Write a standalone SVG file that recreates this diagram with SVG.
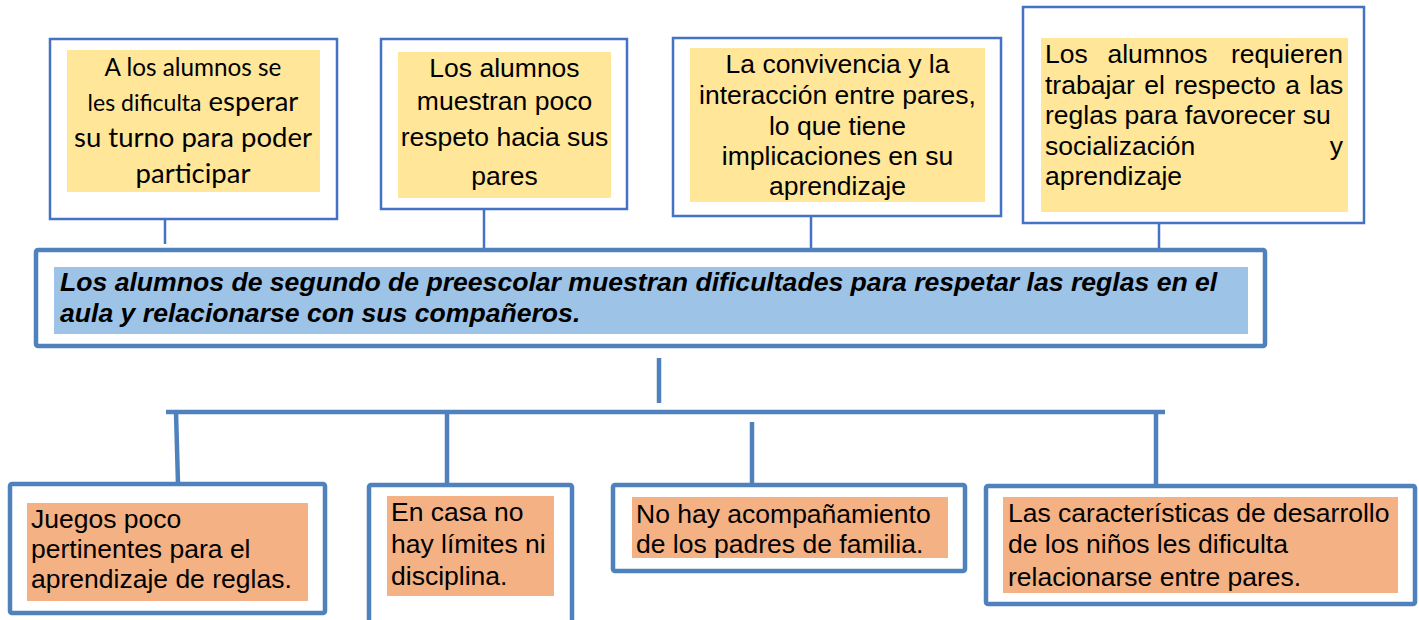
<svg xmlns="http://www.w3.org/2000/svg" width="1419" height="620" viewBox="0 0 1419 620">
<style>
.tbox{fill:#fff;stroke:#4472C4;stroke-width:2.5}
.bbox{fill:#fff;stroke:#4F81BD;stroke-width:4.5}
.yel{fill:#FFE699}
.org{fill:#F4B183}
.blu{fill:#9DC3E6}
.t{font-family:"Liberation Sans",Arial,sans-serif;font-size:26.5px;fill:#000}
.c{font-family:Lato,"Liberation Sans",sans-serif;fill:#000}
.m{font-family:"Liberation Sans",Arial,sans-serif;font-size:26.6px;font-weight:bold;font-style:italic;fill:#000}
.thin{stroke:#4472C4;stroke-width:2.5;fill:none}
.thick{stroke:#4F81BD;stroke-width:4.5;fill:none}
</style>
<rect width="1419" height="620" fill="#fff"/>
<g id="connectors">
<line class="thin" x1="165" y1="219" x2="165" y2="244"/>
<line class="thin" x1="484" y1="209" x2="484" y2="249"/>
<line class="thin" x1="811" y1="216" x2="811" y2="249"/>
<line class="thin" x1="1159" y1="223" x2="1159" y2="249"/>
<line class="thick" x1="659" y1="358" x2="659" y2="403"/>
<line class="thick" x1="166" y1="412" x2="1165" y2="412"/>
<line class="thick" x1="176" y1="412" x2="178" y2="484"/>
<line class="thick" x1="447" y1="412" x2="447" y2="488"/>
<line class="thick" x1="752" y1="422" x2="752" y2="488"/>
<line class="thick" x1="1156" y1="412" x2="1156" y2="487"/>
</g>
<g id="top1">
<rect class="tbox" x="50" y="39" width="287" height="180"/>
<rect class="yel" x="67" y="50" width="253" height="142"/>
<text class="c" text-anchor="middle" x="193" y="76" font-size="24.3">A los alumnos se</text>
<text class="c" text-anchor="middle" x="193" y="111"><tspan font-size="23">les dificulta</tspan><tspan font-size="27.5"> esperar</tspan></text>
<text class="c" text-anchor="middle" x="193" y="147" font-size="27.5">su turno para poder</text>
<text class="c" text-anchor="middle" x="193" y="183" font-size="27.5">participar</text>
</g>
<g id="top2">
<rect class="tbox" x="381" y="39" width="246" height="170"/>
<rect class="yel" x="398" y="52" width="213" height="146"/>
<text class="t" text-anchor="middle" x="504.5" y="77">Los alumnos</text>
<text class="t" text-anchor="middle" x="504.5" y="110">muestran poco</text>
<text class="t" text-anchor="middle" x="504.5" y="146">respeto hacia sus</text>
<text class="t" text-anchor="middle" x="504.5" y="185">pares</text>
</g>
<g id="top3">
<rect class="tbox" x="673" y="38" width="328" height="178"/>
<rect class="yel" x="690" y="48" width="295" height="154"/>
<text class="t" text-anchor="middle" x="837.5" y="73">La convivencia y la</text>
<text class="t" text-anchor="middle" x="837.5" y="104">interacción entre pares,</text>
<text class="t" text-anchor="middle" x="837.5" y="135">lo que tiene</text>
<text class="t" text-anchor="middle" x="837.5" y="165">implicaciones en su</text>
<text class="t" text-anchor="middle" x="837.5" y="195">aprendizaje</text>
</g>
<g id="top4">
<rect class="tbox" x="1023" y="7" width="341" height="216"/>
<rect class="yel" x="1041" y="38" width="307" height="174"/>
<text class="t" x="1045" y="63">Los</text>
<text class="t" text-anchor="middle" x="1157.5" y="63">alumnos</text>
<text class="t" text-anchor="end" x="1343" y="63">requieren</text>
<text class="t" x="1045" y="94" word-spacing="2">trabajar el respecto a las</text>
<text class="t" x="1045" y="124">reglas para favorecer su</text>
<text class="t" x="1045" y="155">socialización</text>
<text class="t" text-anchor="end" x="1343" y="155">y</text>
<text class="t" x="1045" y="185">aprendizaje</text>
</g>
<g id="main">
<rect class="bbox" x="36" y="250" width="1229" height="96" rx="2"/>
<rect class="blu" x="54" y="267" width="1194" height="67"/>
<text class="m" x="60" y="291">Los alumnos de segundo de preescolar muestran dificultades para respetar las reglas en el</text>
<text class="m" x="60" y="322">aula y relacionarse con sus compañeros.</text>
</g>
<g id="bottom1">
<rect class="bbox" x="10" y="484" width="315" height="129" rx="2"/>
<rect class="org" x="27" y="503" width="281" height="98"/>
<text class="t" x="31" y="528">Juegos poco</text>
<text class="t" x="31" y="558">pertinentes para el</text>
<text class="t" x="31" y="588">aprendizaje de reglas.</text>
</g>
<g id="bottom2">
<rect class="bbox" x="369" y="485" width="203" height="150" rx="2"/>
<rect class="org" x="387" y="496" width="167" height="100"/>
<text class="t" x="391" y="521">En casa no</text>
<text class="t" x="391" y="553">hay límites ni</text>
<text class="t" x="391" y="585">disciplina.</text>
</g>
<g id="bottom3">
<rect class="bbox" x="613" y="485" width="352" height="86" rx="2"/>
<rect class="org" x="632" y="497" width="316" height="61"/>
<text class="t" x="636" y="523">No hay acompañamiento</text>
<text class="t" x="636" y="553">de los padres de familia.</text>
</g>
<g id="bottom4">
<rect class="bbox" x="986" y="486" width="429" height="118" rx="2"/>
<rect class="org" x="1003" y="497" width="395" height="96"/>
<text class="t" x="1008" y="522">Las características de desarrollo</text>
<text class="t" x="1008" y="553">de los niños les dificulta</text>
<text class="t" x="1008" y="586">relacionarse entre pares.</text>
</g>
</svg>
